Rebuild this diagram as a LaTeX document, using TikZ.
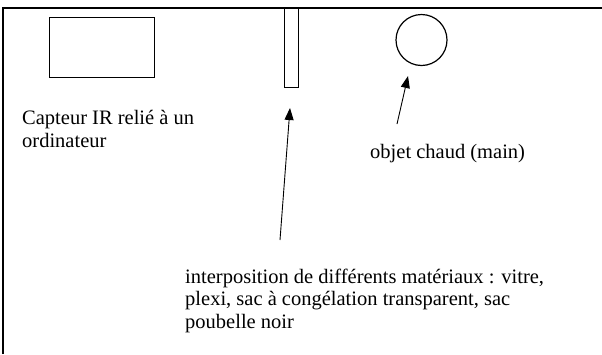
\documentclass[tikz,border=0pt]{standalone}
\usepackage{fontspec}
\setmainfont{Liberation Serif}
\usetikzlibrary{arrows.meta}
\begin{document}
\begin{tikzpicture}[x=1pt,y=-1pt,
  shapeline/.style={draw=black,line width=1.2pt},
  lbl/.style={inner sep=0pt,anchor=base west,align=left,font=\fontsize{20.5}{22.5}\selectfont},
  pointer/.style={draw=black,line width=0.9pt,-{Triangle[length=12pt,width=9pt]}},
  framebar/.style={draw=black,line width=2.6pt}]
  \useasboundingbox (0,0) rectangle (602,354);
  \fill[white] (0,0) rectangle (602,354);
  % frame
  \coordinate (fTL) at (3,8);
  \coordinate (fTR) at (602,8);
  \coordinate (fBL) at (3,354);
  \draw[framebar] (fBL) -- (fTL) -- (fTR);
  % sensor box
  \node[shapeline,minimum width=105pt,minimum height=60pt,inner sep=0pt,anchor=north west] (sensor) at (49,17) {};
  % interposed material
  \node[shapeline,minimum width=14pt,minimum height=79pt,inner sep=0pt,anchor=north west] (plate) at (284,8) {};
  % hot object
  \node[shapeline,circle,minimum size=51pt,inner sep=0pt] (hot) at (421.5,40) {};
  % labels (base = baseline of last line)
  \node[lbl] (capteur) at (22,147) {Capteur IR relié à un\\ordinateur};
  \node[lbl] (objet) at (370,158) {objet chaud (main)};
  \node[lbl] (interp) at (185,328) {interposition de différents matériaux : vitre,\\plexi, sac à congélation transparent, sac\\poubelle noir};
  % arrows
  \coordinate (a1tail) at (280,240);
  \coordinate (a1tip) at (290,108);
  \coordinate (a2tail) at (397,124);
  \coordinate (a2tip) at (408,76);
  \draw[pointer] (a1tail) -- (a1tip);
  \draw[pointer] (a2tail) -- (a2tip);
\end{tikzpicture}
\end{document}
